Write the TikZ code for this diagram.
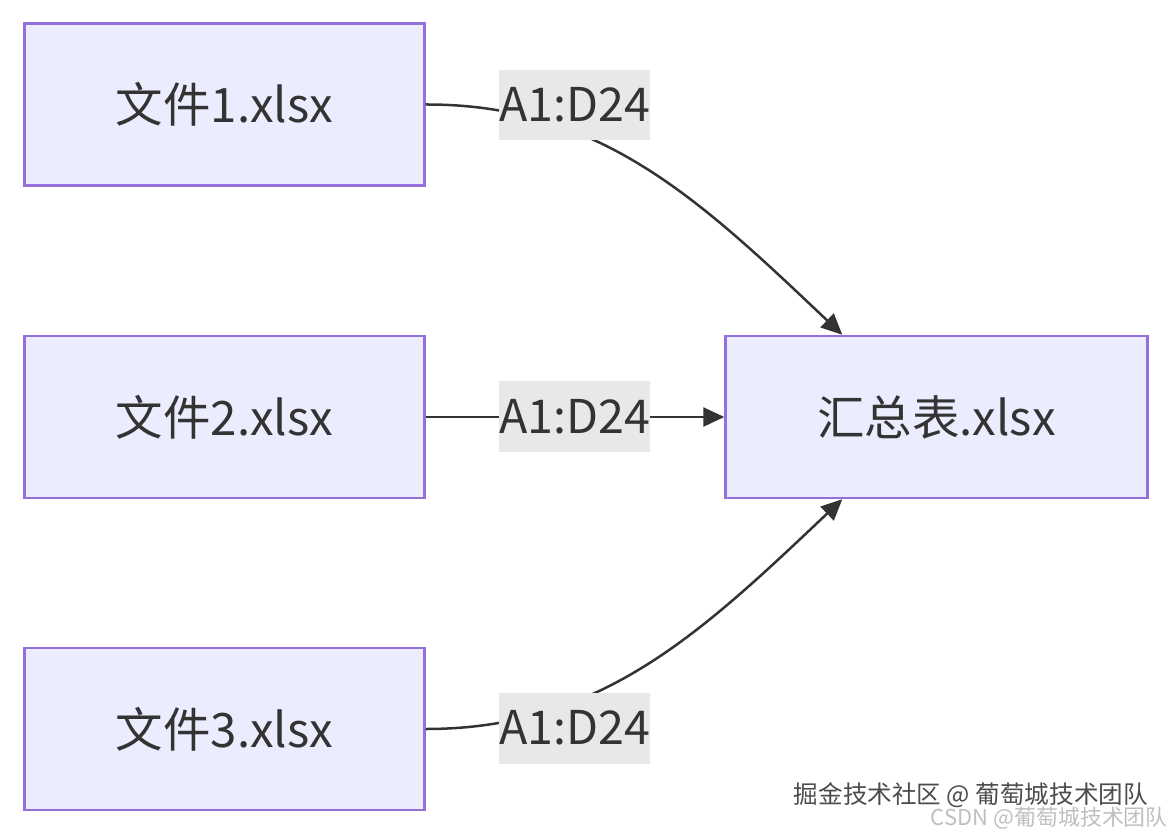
\documentclass[tikz,border=0pt]{standalone}
\usepackage{fontspec}
\setmainfont{Noto Sans CJK SC}
\usetikzlibrary{arrows.meta}
\definecolor{boxfill}{HTML}{ECECFF}
\definecolor{boxline}{HTML}{9370DB}
\definecolor{edgecol}{HTML}{333333}
\definecolor{lblfill}{HTML}{E8E8E8}
\begin{document}
\begin{tikzpicture}[x=0.02cm,y=-0.02cm,>={Triangle[length=0.42cm,width=0.38cm]},
  box/.style={draw=boxline,fill=boxfill,line width=0.05cm,minimum width=8cm,minimum height=3.24cm,inner sep=0pt,text=edgecol,font=\fontsize{27}{32}\selectfont},
  lbl/.style={fill=lblfill,minimum width=2.98cm,minimum height=1.42cm,inner sep=0pt,text=edgecol,font=\fontsize{26.5}{32}\selectfont},
  link/.style={draw=edgecol,line width=0.05cm}]
\useasboundingbox (0,0) rectangle (1172,834);

\node[box](f1) at (224.5,104.5){文件1.xlsx};
\node[box](f2) at (224.5,417){文件2.xlsx};
\node[box](f3) at (224.5,729){文件3.xlsx};
\node[box,minimum width=8.44cm](hz) at (936.5,417){汇总表.xlsx};

\draw[link,->](f1.east) .. controls (600,104) and (700,200) .. ([xshift=2.36cm]hz.north west);
\draw[link,->](f2.east)--(hz.west);
\draw[link,->](f3.east) .. controls (600,729) and (700,634) .. ([xshift=2.36cm]hz.south west);

\node[lbl](l1) at (574.5,105){A1:D24};
\node[lbl](l2) at (574.5,416.5){A1:D24};
\node[lbl](l3) at (574.5,728){A1:D24};

% watermark
\node[text=black!70,font=\fontsize{14}{16}\selectfont,anchor=east,inner sep=1pt](w1) at (1150,795){掘金技术社区 @ 葡萄城技术团队};
\node[text=black!25,font=\fontsize{12.5}{14}\selectfont,anchor=east,inner sep=1pt](w2) at (1170,818){CSDN @葡萄城技术团队};
\end{tikzpicture}
\end{document}
